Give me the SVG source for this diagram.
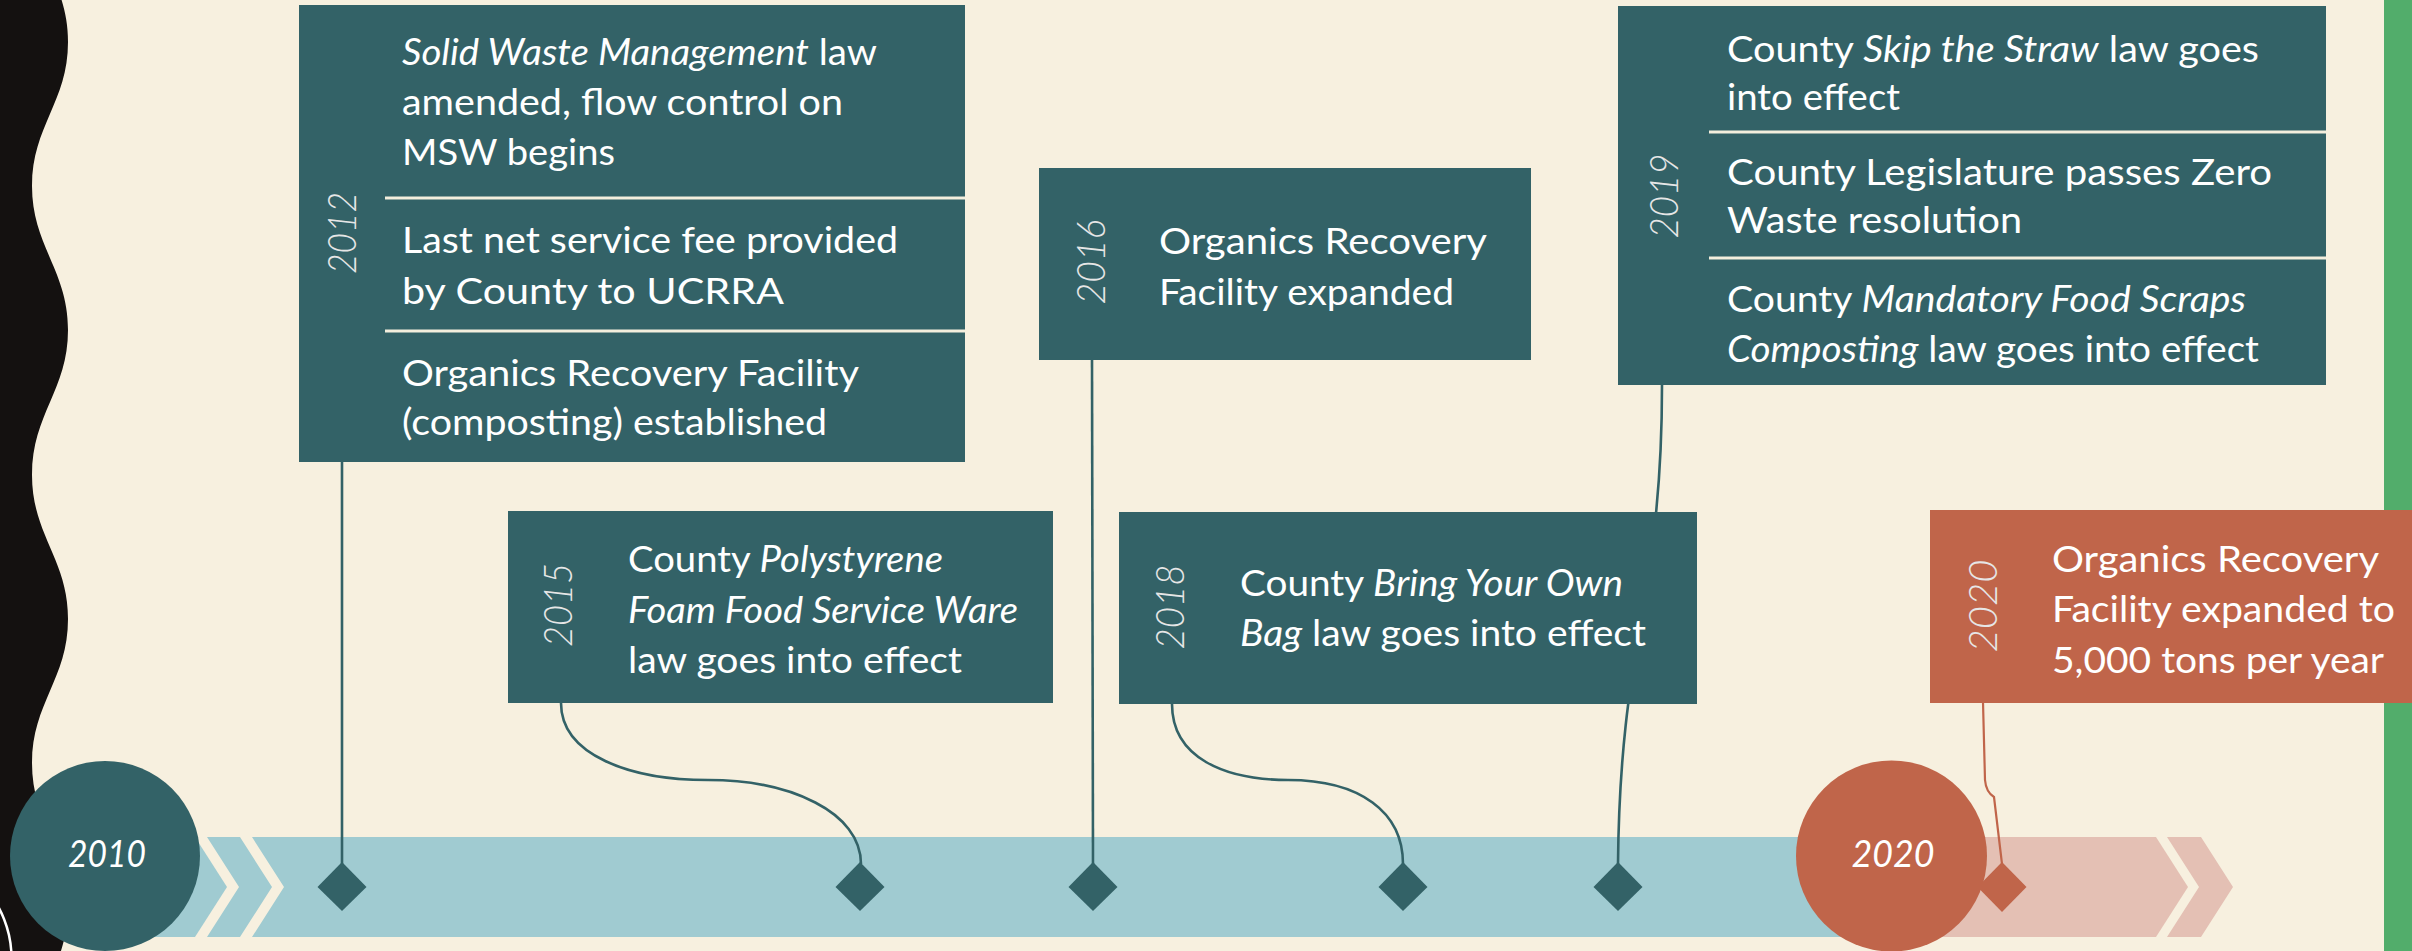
<svg xmlns="http://www.w3.org/2000/svg" width="2412" height="951" viewBox="0 0 2412 951">
<style>
.box{fill:#336267}
.obox{fill:#C0654A}
.t{font-family:Lato,"Noto Sans","Liberation Sans",sans-serif;font-size:37px;fill:#FFFFFF}
.i{font-style:italic}
.yr{font-family:Lato,"Liberation Sans",sans-serif;font-style:italic;font-weight:300;font-size:40px;fill:#E6E6E6;text-anchor:middle}
.cy{font-family:Lato,"Liberation Sans",sans-serif;font-style:italic;font-size:36px;fill:#FFFFFF;text-anchor:middle}
.div{stroke:#F3EEDD;stroke-width:3}
.con{fill:none;stroke:#336267;stroke-width:2.6}
.ocon{fill:none;stroke:#C0654A;stroke-width:2.2}
.dia{fill:#336267}
</style>
<rect x="0" y="0" width="2412" height="951" fill="#F7F0DF"/>
<path d="M0,-102 H32 C32,-42 68,-18 68,42 C68,102 32,126 32,186 C32,246 68,270 68,330 C68,390 32,414 32,475 C32,535 68,559 68,619 C68,679 32,703 32,763 C32,823 68,847 68,907 C68,967 32,991 32,1051 H0 Z" fill="#141110"/>
<circle cx="-94" cy="958" r="105.5" fill="none" stroke="#FFFFFF" stroke-width="2.5"/>
<rect x="2384" y="0" width="28" height="951" fill="#52AD6B"/>
<g id="band">
<polygon points="100,837 195,837 227,887 195,937 100,937" fill="#A0CBD1"/>
<polygon points="207,837 240,837 272,887 240,937 207,937 239,887" fill="#A0CBD1"/>
<polygon points="252,837 1891,837 1891,937 252,937 284,887" fill="#A0CBD1"/>
<polygon points="1891,837 2156,837 2188,887 2156,937 1891,937" fill="#E4C0B4"/>
<polygon points="2167,837 2201,837 2233,887 2201,937 2167,937 2199,887" fill="#E4C0B4"/>
</g>
<g id="connectors">
<line class="con" x1="342" y1="460" x2="342" y2="864"/>
<path class="con" d="M561,703 C561,755 630,780 708,780 C790,780 861,812 861,864"/>
<line class="con" x1="1092" y1="358" x2="1093" y2="864"/>
<path class="con" d="M1172,704 C1172,758 1225,780 1288,780 C1360,780 1403,812 1403,864"/>
<path class="con" d="M1662,385 C1662,600 1620,640 1618,864"/>
<path class="ocon" d="M1983,702 L1985,780 Q1986,792 1994,797 L2002,864"/>
</g>
<g id="markers">
<polygon class="dia" points="342,862 366.5,887 342,911 317.5,887"/>
<polygon class="dia" points="860,862 884.5,887 860,911 835.5,887"/>
<polygon class="dia" points="1093,862 1117.5,887 1093,911 1068.5,887"/>
<polygon class="dia" points="1403,862 1427.5,887 1403,911 1378.5,887"/>
<polygon class="dia" points="1618,862 1642.5,887 1618,911 1593.5,887"/>
</g>
<g id="c2010">
<circle cx="105" cy="856" r="95" fill="#336267"/>
<text class="cy" x="107" y="867" textLength="78" lengthAdjust="spacingAndGlyphs">2010</text>
</g>
<g id="c2020">
<circle cx="1891.5" cy="856" r="95.5" fill="#C0654A"/>
<text class="cy" x="1893" y="867" textLength="83" lengthAdjust="spacingAndGlyphs">2020</text>
<polygon points="2002,862 2026.5,887 2002,912 1977.5,887" fill="#C0654A"/>
</g>
<g id="n2012">
<rect class="box" x="299" y="5" width="666" height="457"/>
<line class="div" x1="385" y1="198" x2="965" y2="198"/>
<line class="div" x1="385" y1="331" x2="965" y2="331"/>
<text class="yr" transform="translate(356,233) rotate(-90)" textLength="82" lengthAdjust="spacingAndGlyphs">2012</text>
<text class="t" x="402" y="65" textLength="475" lengthAdjust="spacingAndGlyphs"><tspan class="i">Solid Waste Management</tspan> law</text>
<text class="t" x="402" y="115" textLength="441" lengthAdjust="spacingAndGlyphs">amended, flow control on</text>
<text class="t" x="402" y="165" textLength="213" lengthAdjust="spacingAndGlyphs">MSW begins</text>
<text class="t" x="402" y="253" textLength="496" lengthAdjust="spacingAndGlyphs">Last net service fee provided</text>
<text class="t" x="402" y="304" textLength="382" lengthAdjust="spacingAndGlyphs">by County to UCRRA</text>
<text class="t" x="402" y="386" textLength="457" lengthAdjust="spacingAndGlyphs">Organics Recovery Facility</text>
<text class="t" x="402" y="435" textLength="425" lengthAdjust="spacingAndGlyphs">(composting) established</text>
</g>
<g id="n2015">
<rect class="box" x="508" y="511" width="545" height="192"/>
<text class="yr" transform="translate(572,605) rotate(-90)" textLength="84" lengthAdjust="spacingAndGlyphs">2015</text>
<text class="t" x="628" y="572" textLength="315" lengthAdjust="spacingAndGlyphs">County <tspan class="i">Polystyrene</tspan></text>
<text class="t i" x="628" y="623" textLength="390" lengthAdjust="spacingAndGlyphs">Foam Food Service Ware</text>
<text class="t" x="628" y="673" textLength="334" lengthAdjust="spacingAndGlyphs">law goes into effect</text>
</g>
<g id="n2016">
<rect class="box" x="1039" y="168" width="492" height="192"/>
<text class="yr" transform="translate(1105,262) rotate(-90)" textLength="85" lengthAdjust="spacingAndGlyphs">2016</text>
<text class="t" x="1159" y="254" textLength="328" lengthAdjust="spacingAndGlyphs">Organics Recovery</text>
<text class="t" x="1159" y="305" textLength="295" lengthAdjust="spacingAndGlyphs">Facility expanded</text>
</g>
<g id="n2018">
<rect class="box" x="1119" y="512" width="578" height="192"/>
<text class="yr" transform="translate(1184,607) rotate(-90)" textLength="85" lengthAdjust="spacingAndGlyphs">2018</text>
<text class="t" x="1240" y="596" textLength="383" lengthAdjust="spacingAndGlyphs">County <tspan class="i">Bring Your Own</tspan></text>
<text class="t" x="1240" y="646" textLength="406" lengthAdjust="spacingAndGlyphs"><tspan class="i">Bag</tspan> law goes into effect</text>
</g>
<g id="n2019">
<rect class="box" x="1618" y="6" width="708" height="379"/>
<line class="div" x1="1709" y1="132" x2="2326" y2="132"/>
<line class="div" x1="1709" y1="258" x2="2326" y2="258"/>
<text class="yr" transform="translate(1678,196) rotate(-90)" textLength="85" lengthAdjust="spacingAndGlyphs">2019</text>
<text class="t" x="1727" y="62" textLength="532" lengthAdjust="spacingAndGlyphs">County <tspan class="i">Skip the Straw</tspan> law goes</text>
<text class="t" x="1727" y="110" textLength="173" lengthAdjust="spacingAndGlyphs">into effect</text>
<text class="t" x="1727" y="185" textLength="545" lengthAdjust="spacingAndGlyphs">County Legislature passes Zero</text>
<text class="t" x="1727" y="233" textLength="295" lengthAdjust="spacingAndGlyphs">Waste resolution</text>
<text class="t" x="1727" y="312" textLength="519" lengthAdjust="spacingAndGlyphs">County <tspan class="i">Mandatory Food Scraps</tspan></text>
<text class="t" x="1727" y="362" textLength="532" lengthAdjust="spacingAndGlyphs"><tspan class="i">Composting</tspan> law goes into effect</text>
</g>
<g id="n2020">
<rect class="obox" x="1930" y="510" width="482" height="193"/>
<text class="yr" transform="translate(1997,606) rotate(-90)" textLength="93" lengthAdjust="spacingAndGlyphs">2020</text>
<text class="t" x="2052" y="572" textLength="327" lengthAdjust="spacingAndGlyphs">Organics Recovery</text>
<text class="t" x="2052" y="622" textLength="343" lengthAdjust="spacingAndGlyphs">Facility expanded to</text>
<text class="t" x="2052" y="673" textLength="332" lengthAdjust="spacingAndGlyphs">5,000 tons per year</text>
</g>
</svg>
